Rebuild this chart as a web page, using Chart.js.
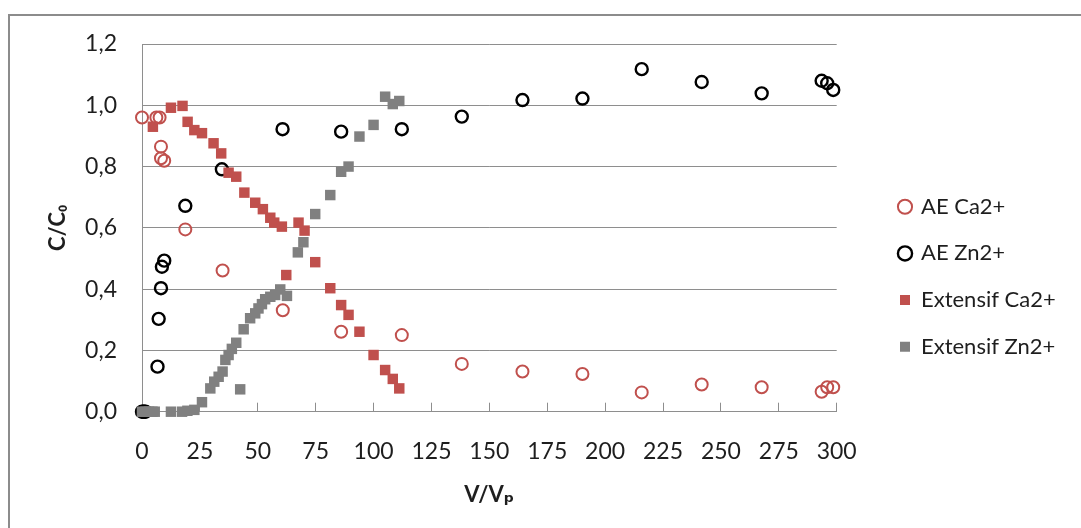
<!DOCTYPE html>
<html>
<head>
<meta charset="utf-8">
<title>C/C0 vs V/Vp</title>
<script src="https://cdn.jsdelivr.net/npm/chart.js@4.4.1/dist/chart.umd.min.js"></script>
<style>
  html, body { margin: 0; padding: 0; background: #fff; overflow: hidden; }
  .frame { position: absolute; left: 8px; top: 14px; width: 1100px; height: 600px; border: 2px solid #8c8c8c; }
  .wrap { position: absolute; left: 0; top: 0; width: 1081px; height: 528px; }
</style>
</head>
<body>
<div class="frame"></div>
<div class="wrap"><canvas id="chart"></canvas></div>
<script>
// series names
const seriesNames = ['AE Ca2+', 'AE Zn2+', 'Extensif Ca2+', 'Extensif Zn2+'];

// AE Ca2+ (open red circles)
const aeCaX = [0, 6.2, 7.6, 8.2, 8.2, 9.6, 18.7, 34.8, 60.8, 86.0, 112.2, 138.1, 164.3, 190.2, 215.8, 241.7, 267.6, 293.5, 295.9, 298.5];
const aeCaY = [0.960, 0.960, 0.960, 0.865, 0.827, 0.819, 0.595, 0.461, 0.331, 0.261, 0.250, 0.156, 0.131, 0.123, 0.063, 0.089, 0.080, 0.065, 0.080, 0.080];

// AE Zn2+ (open black circles)
const aeZnX = [0, 0.5, 1.0, 1.5, 6.7, 7.2, 8.2, 8.6, 9.6, 18.7, 34.5, 60.7, 86.0, 112.2, 138.1, 164.3, 190.2, 215.8, 241.7, 267.6, 293.5, 295.9, 298.5];
const aeZnY = [0, 0, 0, 0, 0.147, 0.303, 0.403, 0.473, 0.493, 0.672, 0.791, 0.922, 0.914, 0.922, 0.963, 1.017, 1.022, 1.118, 1.076, 1.039, 1.080, 1.072, 1.050];

// Extensif Ca2+ (filled red squares)
const extCaX = [4.7, 12.5, 17.5, 19.7, 22.6, 25.9, 30.9, 34.2, 37.4, 40.7, 44.2, 48.9, 52.2, 55.4, 57.1, 60.4, 62.3, 67.6, 70.2, 74.8, 81.3, 86.0, 89.2, 93.9, 100.0, 105.0, 108.3, 111.1];
const extCaY = [0.930, 0.992, 0.998, 0.946, 0.919, 0.909, 0.876, 0.843, 0.780, 0.767, 0.715, 0.682, 0.661, 0.633, 0.617, 0.604, 0.446, 0.617, 0.591, 0.488, 0.403, 0.348, 0.316, 0.261, 0.185, 0.136, 0.107, 0.076];

// Extensif Zn2+ (filled grey squares)
const extZnX = [0, 1.5, 3.0, 4.5, 5.5, 12.5, 17.3, 19.6, 22.6, 25.9, 29.5, 31.2, 33.1, 34.8, 36.0, 37.4, 38.8, 40.7, 42.4, 43.9, 46.7, 48.9, 50.3, 51.8, 53.2, 55.4, 57.5, 59.7, 62.6, 67.3, 69.7, 74.8, 81.3, 86.0, 89.2, 93.9, 100.0, 105.0, 108.3, 111.1];
const extZnY = [0, 0, 0, 0, 0, 0, 0, 0.003, 0.006, 0.031, 0.076, 0.098, 0.114, 0.131, 0.169, 0.185, 0.205, 0.225, 0.073, 0.269, 0.305, 0.321, 0.337, 0.351, 0.367, 0.375, 0.381, 0.399, 0.378, 0.520, 0.553, 0.645, 0.707, 0.783, 0.800, 0.898, 0.936, 1.028, 1.004, 1.014];

// axis ticks
const xTickStep = 25, xMin = 0, xMax = 300;
const yTickStep = 0.2, yMin = 0, yMax = 1.2;

function pairs(xs, ys) {
    return xs.map((x, i) => ({ x: x, y: ys[i] }));
}

const FONT = "Lato, 'DejaVu Sans', sans-serif";
const TEXT = '#1e1e1e';
const GRID = '#8e8e8e';
const RED = '#C0504D';
const GREY = '#808080';

const legendFont = 22, legendPad = 24.7, legendBox = 10;
const plotRight = 836.7, gapRight = 38.6;

const ctx = document.getElementById('chart').getContext('2d');
const chart = new Chart(ctx, {
    type: 'scatter',
    data: {
        datasets: [
            {
                label: seriesNames[0],
                data: pairs(aeCaX, aeCaY),
                pointStyle: 'circle',
                pointRadius: 6,
                borderColor: RED,
                backgroundColor: 'rgba(0,0,0,0)',
                borderWidth: 2,
                pointBorderWidth: 2,
                clip: false,
                order: 4
            },
            {
                label: seriesNames[1],
                data: pairs(aeZnX, aeZnY),
                pointStyle: 'circle',
                pointRadius: 6,
                borderColor: '#000',
                backgroundColor: 'rgba(0,0,0,0)',
                borderWidth: 2.4,
                pointBorderWidth: 2.4,
                clip: false,
                order: 3
            },
            {
                label: seriesNames[2],
                data: pairs(extCaX, extCaY),
                pointStyle: 'rect',
                pointRadius: 7.4,
                borderColor: RED,
                backgroundColor: RED,
                borderWidth: 0,
                pointBorderWidth: 0,
                clip: false,
                order: 2
            },
            {
                label: seriesNames[3],
                data: pairs(extZnX, extZnY),
                pointStyle: 'rect',
                pointRadius: 7.4,
                borderColor: GREY,
                backgroundColor: GREY,
                borderWidth: 0,
                pointBorderWidth: 0,
                clip: false,
                order: 1
            }
        ]
    },
    options: {
        responsive: true,
        maintainAspectRatio: false,
        animation: false,
        events: [],
        layout: {
            padding: { left: 0, top: 44, right: 20, bottom: 18.5 }
        },
        plugins: {
            legend: {
                position: 'right',
                align: 'center',
                labels: {
                    usePointStyle: true,
                    boxWidth: legendBox,
                    boxHeight: legendBox,
                    padding: legendPad,
                    color: TEXT,
                    font: { family: FONT, size: legendFont },
                    sort: (a, b) => a.datasetIndex - b.datasetIndex
                }
            },
            tooltip: { enabled: false }
        },
        scales: {
            x: {
                type: 'linear',
                position: 'bottom',
                min: xMin,
                max: xMax,
                afterFit: function(scale) { scale.height = 97.8; },
                ticks: {
                    stepSize: xTickStep,
                    padding: 35.5,
                    maxRotation: 0,
                    autoSkip: false,
                    color: TEXT,
                    font: { family: FONT, size: 23 }
                },
                grid: {
                    drawOnChartArea: false,
                    drawTicks: true,
                    tickLength: -9,
                    color: GRID
                },
                border: { display: true, color: GRID, width: 1 },
                title: {
                    display: true,
                    text: 'V/Vₚ',
                    color: TEXT,
                    font: { family: FONT, size: 22, weight: 'bold' },
                    padding: { top: 0, bottom: 1.3 }
                }
            },
            y: {
                type: 'linear',
                position: 'left',
                min: yMin,
                max: yMax,
                afterFit: function(scale) { scale.width = 142; },
                ticks: {
                    stepSize: yTickStep,
                    padding: 25,
                    color: TEXT,
                    font: { family: FONT, size: 23 },
                    callback: function(value) {
                        return value.toFixed(1).replace('.', ',');
                    }
                },
                grid: { color: GRID, drawTicks: false },
                border: { display: true, color: GRID, width: 1 },
                title: {
                    display: true,
                    text: 'C/C₀',
                    color: TEXT,
                    font: { family: FONT, size: 22, weight: 'bold' },
                    padding: { top: 44.8, bottom: 0 }
                }
            },
            // hidden spacer between plot and legend
            gap: {
                type: 'linear',
                position: 'right',
                display: false,
                afterFit: function(scale) { scale.width = gapRight; }
            }
        }
    }
});

// widen the right padding so the plot ends where the reference plot ends
chart.options.layout.padding.right += chart.chartArea.right - plotRight;
chart.update();
</script>
</body>
</html>
